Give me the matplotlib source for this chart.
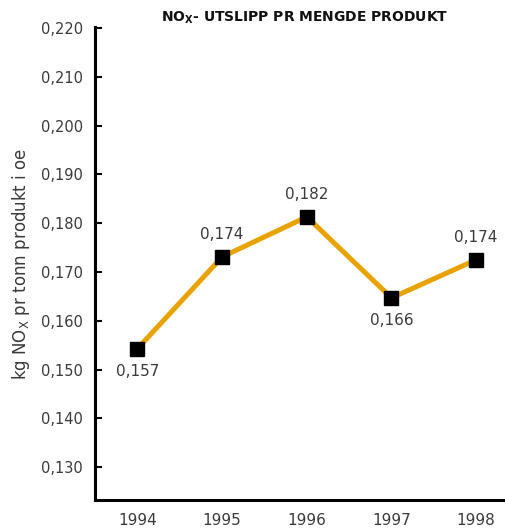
import matplotlib
matplotlib.use("Agg")
import matplotlib.pyplot as plt

# data (plotted positions differ slightly from printed labels)
years = [1994, 1995, 1996, 1997, 1998]
values = [0.1543, 0.1731, 0.1813, 0.1647, 0.1725]
value_labels = ["0,157", "0,174", "0,182", "0,166", "0,174"]
label_above = [False, True, True, False, True]
y_ticks = [0.130, 0.140, 0.150, 0.160, 0.170, 0.180, 0.190, 0.200, 0.210, 0.220]
y_tick_labels = ["0,130", "0,140", "0,150", "0,160", "0,170",
                 "0,180", "0,190", "0,200", "0,210", "0,220"]

plt.rcParams['font.family'] = ['DejaVu Sans']
text_col = '#3a3a3a'

fig = plt.figure(figsize=(5.06, 5.28), dpi=100)
ax = fig.add_axes([0.188, 0.053, 0.82, 0.896])

ax.plot(years, values, color='#E8A300', linewidth=3.6, zorder=2)
ax.plot(years, values, linestyle='none', marker='s', markersize=10,
        color='black', zorder=3)

for x, y, lab, up in zip(years, values, value_labels, label_above):
    ax.annotate(lab, (x, y), xytext=(0, 11 if up else -11),
                textcoords='offset points', ha='center',
                va='bottom' if up else 'top', fontsize=11, color=text_col)

ax.set_xlim(1993.5, 1998.4)
ax.set_ylim(0.1233, 0.2202)
ax.set_yticks(y_ticks)
ax.set_yticklabels(y_tick_labels)
ax.set_xticks(years)
ax.set_xticklabels([str(y) for y in years])

for s in ['top', 'right']:
    ax.spines[s].set_visible(False)
for s in ['left', 'bottom']:
    ax.spines[s].set_linewidth(2.2)
    ax.spines[s].set_color('black')

ax.tick_params(axis='y', direction='in', length=5, width=1.5,
               labelsize=10.5, labelcolor=text_col, pad=9)
ax.tick_params(axis='x', length=0, labelsize=11, labelcolor=text_col, pad=9)

ax.set_ylabel(r'kg NO$_\mathregular{X}$ pr tonn produkt i oe',
              fontsize=12, color=text_col, labelpad=6)

fig.text(0.603, 0.966, r'NO$_\mathregular{X}$- UTSLIPP PR MENGDE PRODUKT',
         ha='center', va='center', fontsize=10, fontweight='bold',
         color='#111111')

fig.savefig('out.png', dpi=100)
